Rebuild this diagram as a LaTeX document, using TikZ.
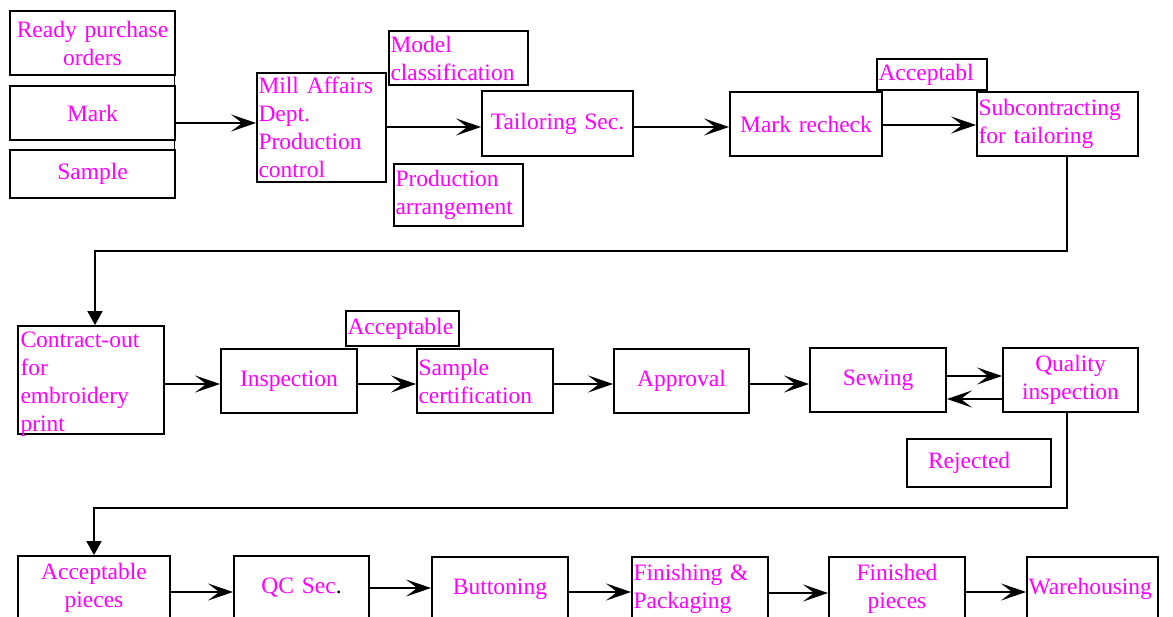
\documentclass[tikz,border=0pt]{standalone}
\usepackage{fontspec}
\setmainfont{Liberation Serif}
\usetikzlibrary{arrows.meta}
\definecolor{labelpink}{RGB}{255,0,255}
\tikzset{
  box/.style={draw=black, line width=1.8pt, inner ysep=0pt, inner xsep=1.5pt,
    text=labelpink, font=\fontsize{23.5}{28}\selectfont, anchor=center},
  cbox/.style={box, align=center},
  lbox/.style={box, align=left},
  flow/.style={line width=1.7pt},
  arr/.style={flow, -{Stealth[length=25pt,width=17pt,inset=11pt]}},
  downarr/.style={flow, line join=miter, -{Triangle[length=14pt,width=15pt]}}
}
\begin{document}
\begin{tikzpicture}[x=1pt,y=-1pt]
\useasboundingbox (0,0) rectangle (1173,617);
\clip (0,0) rectangle (1173,617);

% ---- first row: order intake and tailoring
\node[cbox, minimum width=165pt, minimum height=64pt, text width=160pt] (rpo) at (92.5,43) {Ready purchase\\orders};
\node[cbox, minimum width=165pt, minimum height=54pt, text width=160pt] (mark) at (92.5,113) {Mark};
\node[cbox, minimum width=165pt, minimum height=48pt, text width=160pt] (sample) at (92.5,174) {Sample};
\node[lbox, minimum width=129pt, minimum height=109pt, text width=126pt] (mill) at (321.5,127.5) {Mill Affairs\\Dept.\\Production\\control};
\node[lbox, minimum width=139pt, minimum height=54pt, text width=136pt] (model) at (458.5,58) {Model\\classification};
\node[cbox, minimum width=151pt, minimum height=65pt, text width=146pt] (tail) at (557.5,123.5) {Tailoring Sec.};
\node[lbox, minimum width=129pt, minimum height=62pt, text width=126pt] (prod) at (458.5,195) {Production\\arrangement};
\node[cbox, minimum width=152pt, minimum height=64pt, text width=147pt] (mr) at (806,124) {Mark recheck};
\node[lbox, minimum width=110pt, minimum height=31pt, text width=107pt] (acc1) at (932,74.5) {Acceptabl};
\node[lbox, minimum width=161pt, minimum height=64pt, text width=158pt] (sub) at (1057.5,124) {Subcontracting\\for tailoring};

% ---- second row: embroidery, inspection and sewing
\node[box, minimum width=146pt, minimum height=108pt] (contract) at (91,380) {};
\node[text=labelpink, font=\fontsize{23.5}{28}\selectfont, align=left, text width=143pt, inner sep=0pt]
  (contracttext) at (92,384) {Contract-out\\for\\embroidery\\print};
\node[cbox, minimum width=136pt, minimum height=64pt, text width=131pt] (insp) at (289,381) {Inspection};
\node[lbox, minimum width=113pt, minimum height=35pt, text width=110pt] (acc2) at (402.5,328.5) {Acceptable};
\node[lbox, minimum width=136pt, minimum height=64pt, text width=133pt] (samp) at (485,381) {Sample\\certification};
\node[cbox, minimum width=135pt, minimum height=64pt, text width=130pt] (appr) at (681.5,381) {Approval};
\node[cbox, minimum width=136pt, minimum height=64pt, text width=131pt] (sew) at (878,380) {Sewing};
\node[cbox, minimum width=135pt, minimum height=64pt, text width=130pt] (qual) at (1070.5,380) {Quality\\inspection};
\node[lbox, minimum width=144pt, minimum height=48pt, inner xsep=21pt, text width=102pt] (rej) at (979,463) {Rejected};

% ---- third row: finishing and storage
\node[cbox, minimum width=152pt, minimum height=64pt, text width=147pt] (accp) at (94,588) {Acceptable\\pieces};
\node[cbox, minimum width=135pt, minimum height=64pt, text width=130pt] (qc) at (301.5,588) {QC Sec{\color{black}.}};
\node[cbox, minimum width=136pt, minimum height=64pt, text width=131pt] (btn) at (500,589) {Buttoning};
\node[lbox, minimum width=136pt, minimum height=64pt, text width=133pt] (fin) at (700,589) {Finishing \&\\Packaging};
\node[cbox, minimum width=136pt, minimum height=64pt, text width=131pt] (fnd) at (897,589) {Finished\\pieces};
\node[lbox, minimum width=131pt, minimum height=64pt, text width=128pt] (wh) at (1092.5,589) {Warehousing};

% ---- reference levels for the connectors
\coordinate (jt) at (174.5,75);
\coordinate (jb) at (174.5,162);
\coordinate (jin) at (175,123);
\coordinate (yA) at (0,127);
\coordinate (yB) at (0,125);
\coordinate (xR) at (1067,0);
\coordinate (xL) at (95,0);
\coordinate (xL2) at (94,0);
\coordinate (yL1) at (0,251);
\coordinate (yL2) at (0,508);
\coordinate (yC) at (0,384);
\coordinate (yD) at (0,376);
\coordinate (yE) at (0,399);
\coordinate (yF) at (0,592);
\coordinate (yG) at (0,588);
\coordinate (yH) at (0,593);

% ---- connectors, first row
\draw[flow] (jt) -- (jb);
\draw[arr] (jin) -- (jin -| mill.west);
\draw[arr] (mill.east |- yA) -- (tail.west |- yA);
\draw[arr] (tail.east |- yA) -- (mr.west |- yA);
\draw[arr] (mr.east |- yB) -- (sub.west |- yB);
\draw[downarr] (sub.south -| xR) -- (xR |- yL1) -- (xL |- yL1) -- (contract.north -| xL);

% ---- connectors, second row
\draw[arr] (contract.east |- yC) -- (insp.west |- yC);
\draw[arr] (insp.east |- yC) -- (samp.west |- yC);
\draw[arr] (samp.east |- yC) -- (appr.west |- yC);
\draw[arr] (appr.east |- yC) -- (sew.west |- yC);
\draw[arr] (sew.east |- yD) -- (qual.west |- yD);
\draw[arr] (qual.west |- yE) -- (sew.east |- yE);
\draw[downarr] (qual.south -| xR) -- (xR |- yL2) -- (xL2 |- yL2) -- (accp.north -| xL2);

% ---- connectors, third row
\draw[arr] (accp.east |- yF) -- (qc.west |- yF);
\draw[arr] (qc.east |- yG) -- (btn.west |- yG);
\draw[arr] (btn.east |- yF) -- (fin.west |- yF);
\draw[arr] (fin.east |- yH) -- (fnd.west |- yH);
\draw[arr] (fnd.east |- yF) -- (wh.west |- yF);
\end{tikzpicture}
\end{document}
